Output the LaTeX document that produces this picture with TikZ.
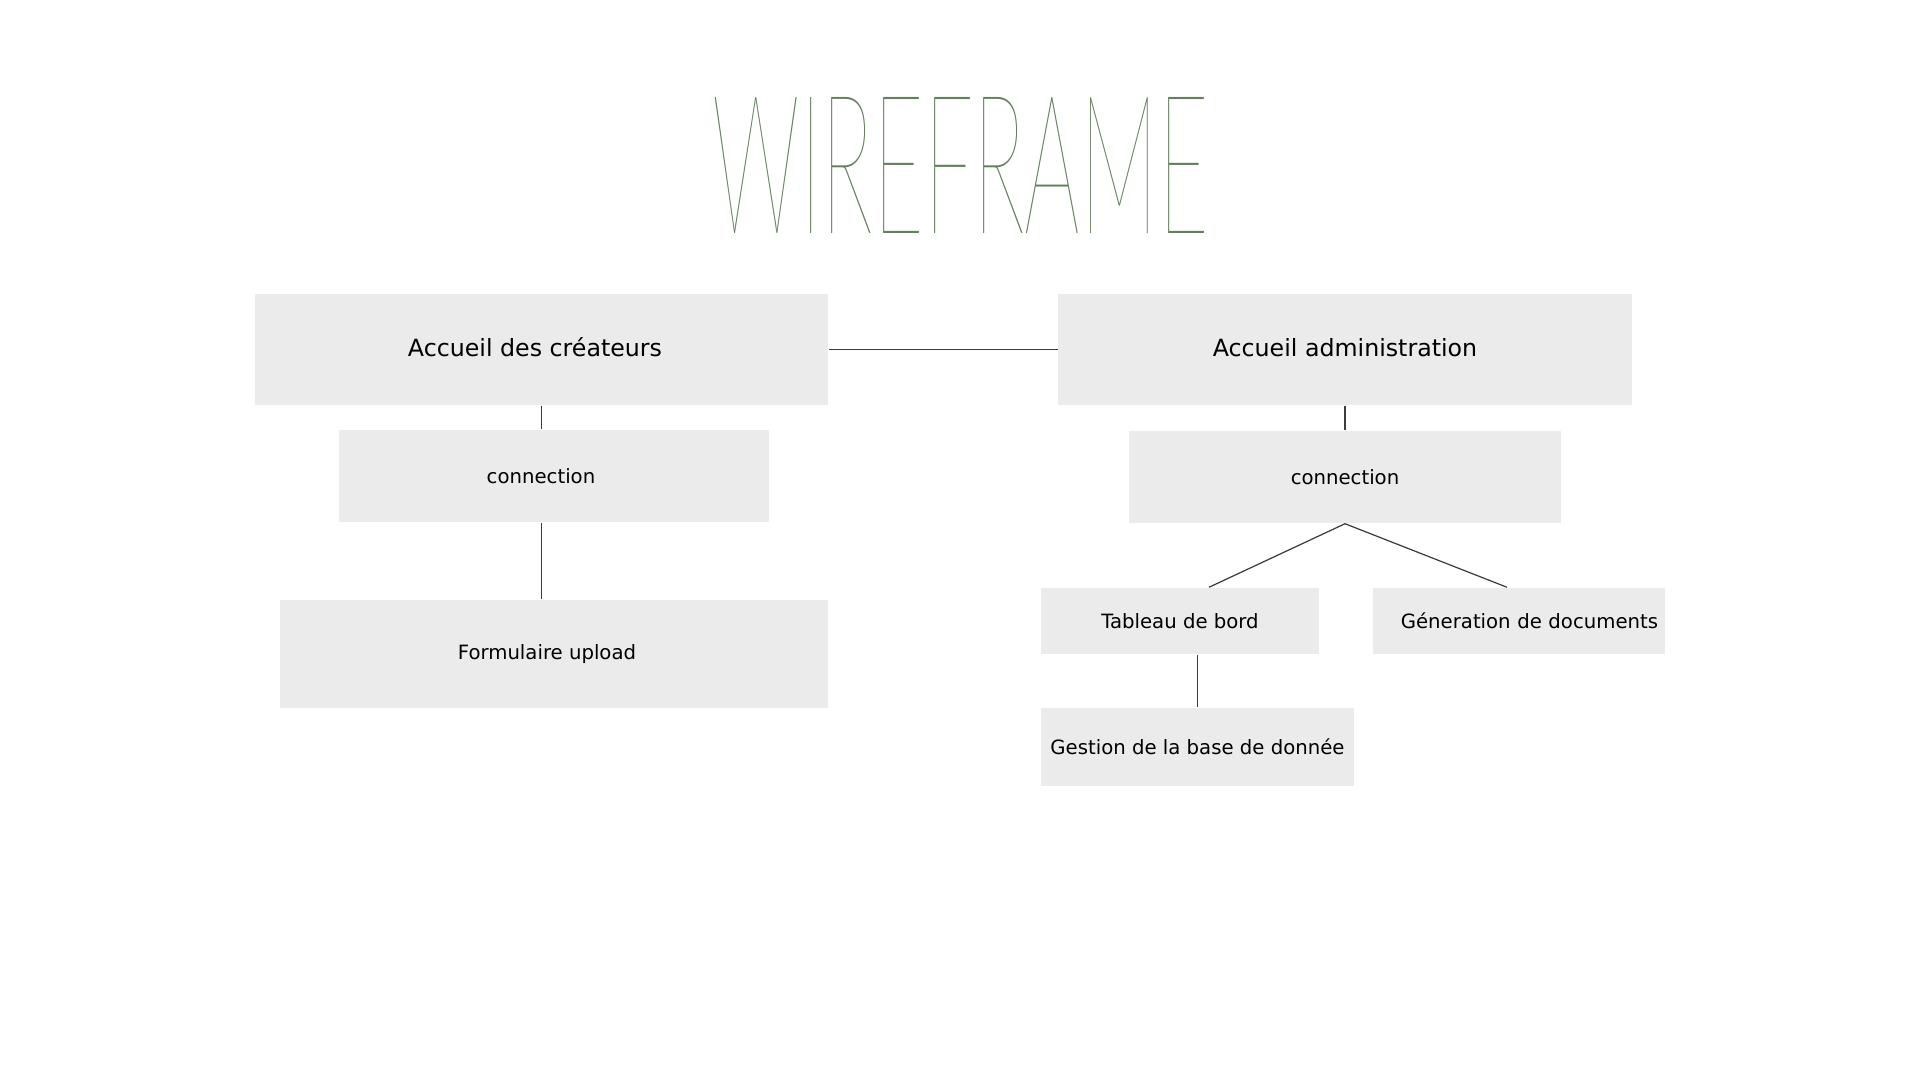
\documentclass[tikz,border=0pt]{standalone}
\usepackage{fontspec}
\setmainfont{DejaVu Sans}
\IfFontExistsTF{FiraSans-Hair.otf}{\newfontfamily\titlefont{FiraSans-Hair.otf}}{%
 \IfFontExistsTF{FiraSans-Thin.otf}{\newfontfamily\titlefont{FiraSans-Thin.otf}}{%
  \IfFontExistsTF{Lato-Hairline.ttf}{\newfontfamily\titlefont{Lato-Hairline.ttf}}{%
   \IfFontExistsTF{DejaVuSans-ExtraLight.ttf}{\newfontfamily\titlefont{DejaVuSans-ExtraLight.ttf}}{%
    \newfontfamily\titlefont{DejaVu Sans}}}}}
\usepackage{graphicx}
\definecolor{boxgray}{HTML}{EBEBEB}
\definecolor{linegray}{HTML}{3C3C3C}
\definecolor{titlegreen}{HTML}{62805C}

\begin{document}
\begin{tikzpicture}[x=0.01cm, y=-0.01cm,
  home/.style={fill=boxgray, inner sep=0pt, minimum width=5.73cm, minimum height=1.11cm, text height=0.39em, text depth=0pt, font=\fontsize{6.74}{8}\selectfont},
  sub/.style={fill=boxgray, inner sep=0pt, font=\fontsize{5.6}{7}\selectfont},
  link/.style={draw=linegray, line width=0.35pt}]
\useasboundingbox (0,0) rectangle (1920,1080);
\node[text=titlegreen, inner sep=0pt] (title) at (961,165) {\resizebox{4.96cm}{1.36cm}{\titlefont WIREFRAME}};
% creators side
\node[home] (crea) at (541.5,349.5) {\hspace*{-0.13cm}Accueil des créateurs};
\node[sub, minimum width=4.30cm, minimum height=0.92cm] (conL) at (554,476) {\hspace*{-0.26cm}connection};
\node[sub, minimum width=5.48cm, minimum height=1.08cm] (form) at (554,654) {\hspace*{-0.14cm}Formulaire upload};
% admin side
\node[home] (admin) at (1345,349.5) {Accueil administration};
\node[sub, minimum width=4.31cm, minimum height=0.92cm] (conR) at (1345,477) {connection};
\node[sub, minimum width=2.78cm, minimum height=0.66cm] (tab) at (1180,621) {Tableau de bord};
\node[sub, inner xsep=0.07cm, text width=2.78cm, align=right, minimum height=0.66cm] (gen) at (1519,621) {Géneration de documents};
\node[sub, minimum width=3.13cm, minimum height=0.78cm] (gest) at (1197.5,747) {Gestion de la base de donnée};
% links
\draw[link] (crea) -- (admin);
\draw[link] (crea.south) -- (crea.south |- conL.north);
\draw[link] (crea.south |- conL.south) -- (crea.south |- form.north);
\draw[link] (admin.south) -- (conR.north);
\draw[link] (conR.south) -- ([xshift=0.29cm]tab.north);
\draw[link] (conR.south) -- ([xshift=-0.12cm]gen.north);
\draw[link] (gest.north |- tab.south) -- (gest.north);
\end{tikzpicture}
\end{document}
